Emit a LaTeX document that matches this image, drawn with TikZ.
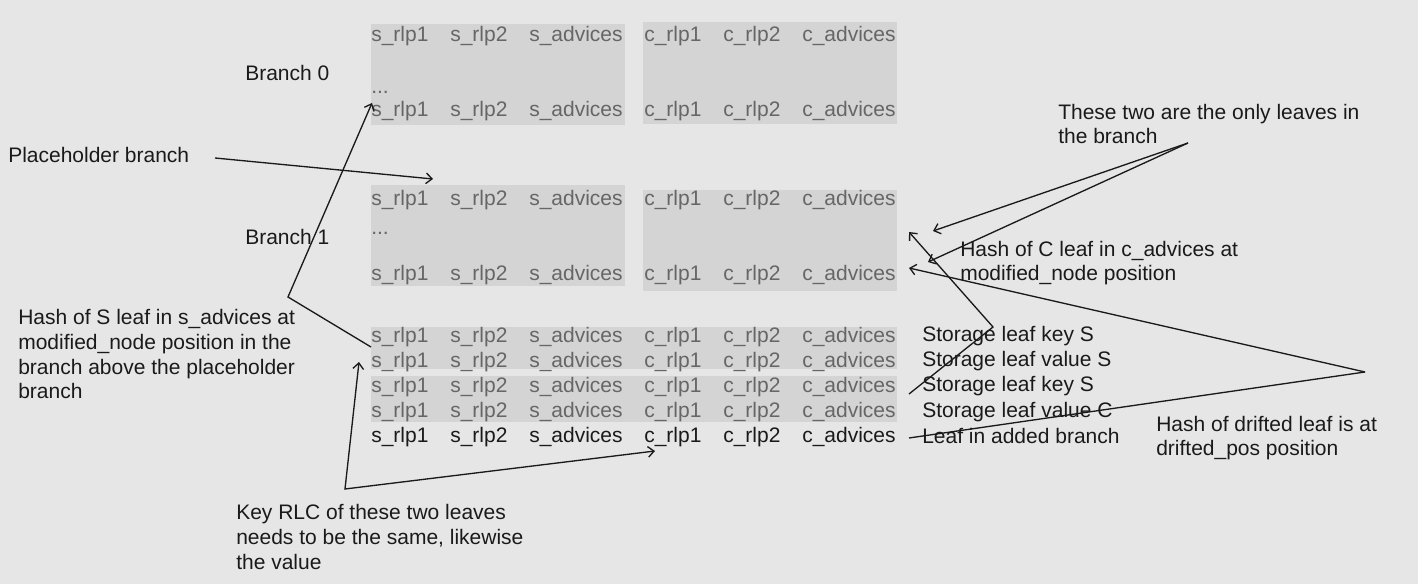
\documentclass[tikz,border=0pt]{standalone}
\usepackage{fontspec}
\setmainfont{Liberation Sans}
\usepackage{tikz}
\usetikzlibrary{arrows.meta}
\definecolor{bgcol}{HTML}{E6E6E6}
\definecolor{boxcol}{HTML}{D4D4D4}
\definecolor{cellcol}{HTML}{666666}
\definecolor{inkcol}{HTML}{1A1A1A}
\tikzset{
  cell/.style={anchor=base west, inner sep=0pt, text=cellcol},
  note/.style={anchor=base west, inner sep=0pt, align=left, text=inkcol},
  pointer/.style={draw=inkcol, line width=1pt, >={Straight Barb[length=4.5pt, width=8pt]}},
}

\begin{document}
\begin{tikzpicture}[x=0.75pt, y=-0.75pt, font=\fontsize{15.75}{18.5}\selectfont]
            \fill[bgcol] (0,0) rectangle (1418,584);
            \useasboundingbox (0,0) rectangle (1418,584);
            % grey blocks
            \fill[boxcol] (371,24) rectangle (625,125);
            \fill[boxcol] (643,22) rectangle (897,124);
            \fill[boxcol] (371,185) rectangle (625,286);
            \fill[boxcol] (643,190) rectangle (897,291);
            \fill[boxcol] (371,327) rectangle (897,369);
            \fill[boxcol] (371,376) rectangle (897,422);
            % rows of cells
            \foreach \row/\yy in {b0a/42, b0b/117, b1a/206, b1b/281, l1/343, l2/368, l3/393, l4/418}
                \foreach \txt/\xx [count=\c] in {s\_rlp1/371, s\_rlp2/450, s\_advices/529, c\_rlp1/644, c\_rlp2/723, c\_advices/802}
                    \node[cell] (\row c\c) at (\xx,\yy) {\txt};
            \foreach \txt/\xx [count=\c] in {s\_rlp1/371, s\_rlp2/450, s\_advices/529, c\_rlp1/644, c\_rlp2/723, c\_advices/802}
                \node[cell, text=inkcol] (l5c\c) at (\xx,443) {\txt};
            \node[cell] (dots0) at (371,94) {...};
            \node[cell] (dots1) at (371,235) {...};
            % labels (multi-line ones sit on their last line)
            \node[note] (branch0) at (245,81) {Branch 0};
            \node[note] (branch1) at (245,245) {Branch 1};
            \node[note] (placeholder) at (8,163) {Placeholder branch};
            \node[note] (shash) at (18,399) {Hash of S leaf in s\_advices at\\modified\_node position in the\\branch above the placeholder\\branch};
            \node[note] (keyrlc) at (236,569) {Key RLC of these two leaves\\needs to be the same, likewise\\the value};
            \node[note] (onlytwo) at (1058,144) {These two are the only leaves in\\the branch};
            \node[note] (chash) at (960,281) {Hash of C leaf in c\_advices at\\modified\_node position};
            \node[note] (keyS) at (922,342) {Storage leaf key S};
            \node[note] (valS) at (922,367) {Storage leaf value S};
            \node[note] (keyC) at (922,392) {Storage leaf key S};
            \node[note] (valC) at (922,418) {Storage leaf value C};
            \node[note] (added) at (922,444) {Leaf in added branch};
            \node[note] (drifted) at (1156,456) {Hash of drifted leaf is at\\drifted\_pos position};
            % connector ends
            \coordinate (ph-from) at (215,158);
            \coordinate (ph-to) at (433,179);
            \coordinate (s-from) at (371,347);
            \coordinate (s-bend) at (288,297);
            \coordinate (s-to) at (372,103);
            \coordinate (k-to1) at (359,362);
            \coordinate (k-bend) at (345,489);
            \coordinate (k-to2) at (655,451);
            \coordinate (two-from) at (1188,143);
            \coordinate (two-to1) at (933,231);
            \coordinate (two-to2) at (928,262);
            \coordinate (c-from) at (909,394);
            \coordinate (c-bend) at (993,327);
            \coordinate (c-to) at (909,232);
            \coordinate (d-from) at (1365,372);
            \coordinate (d-to) at (909,268);
            \coordinate (d-end) at (909,438);
            % connectors
            \draw[pointer, ->] (ph-from) -- (ph-to);
            \draw[pointer, ->] (s-from) -- (s-bend) -- (s-to);
            \draw[pointer, <->] (k-to1) -- (k-bend) -- (k-to2);
            \draw[pointer, ->] (two-from) -- (two-to1);
            \draw[pointer, ->] (two-from) -- (two-to2);
            \draw[pointer, ->] (c-from) -- (c-bend) -- (c-to);
            \draw[pointer, ->] (d-from) -- (d-to);
            \draw[pointer] (d-from) -- (d-end);
        \end{tikzpicture}
\end{document}
